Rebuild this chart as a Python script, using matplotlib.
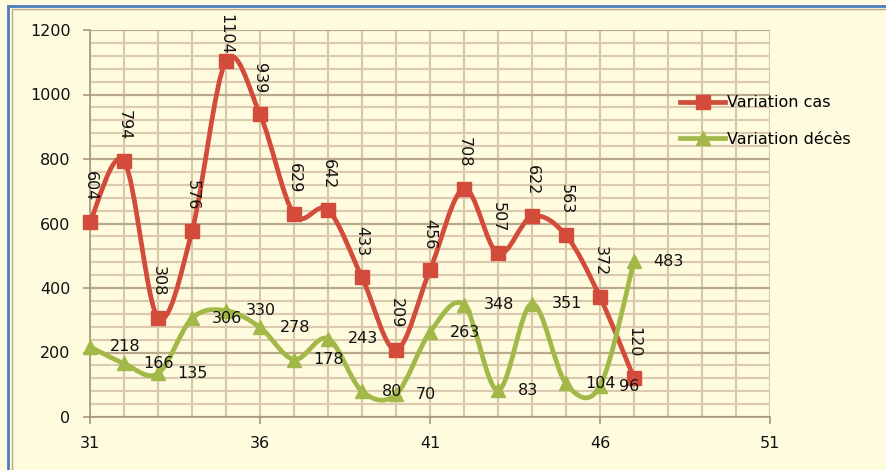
"""
Variation cas / Variation décès, smoothed lines with data labels.
Output: out.png
"""
import matplotlib
matplotlib.use("Agg")
import matplotlib.pyplot as plt
from matplotlib.path import Path
from matplotlib.patches import PathPatch, Rectangle
from matplotlib.lines import Line2D
from matplotlib.ticker import MultipleLocator

WEEKS = list(range(31, 48))
CAS = [604, 794, 308, 576, 1104, 939, 629, 642, 433, 209, 456, 708, 507, 622, 563, 372, 120]
DECES = [218, 166, 135, 306, 330, 278, 178, 243, 80, 70, 263, 348, 83, 351, 104, 96, 483]
LABELS = ["Variation cas", "Variation décès"]
XTICKS = [31, 36, 41, 46, 51]

RED = "#D34B3A"
GREEN = "#A2B849"
BG = "#FFFBDF"
W, H = 886, 470
FS = 11.5

plt.rcParams["font.family"] = "DejaVu Sans"
plt.rcParams["font.size"] = FS


def smooth_path(x, y):
    # Catmull-Rom style bezier, like Excel "smoothed line"
    n = len(x)
    verts = [(x[0], y[0])]
    codes = [Path.MOVETO]
    for i in range(n - 1):
        a = i - 1 if i > 0 else i
        d = i + 2 if i + 2 < n else i + 1
        c1 = (x[i] + (x[i + 1] - x[a]) / 6, y[i] + (y[i + 1] - y[a]) / 6)
        c2 = (x[i + 1] - (x[d] - x[i]) / 6, y[i + 1] - (y[d] - y[i]) / 6)
        verts += [c1, c2, (x[i + 1], y[i + 1])]
        codes += [Path.CURVE4] * 3
    return Path(verts, codes)


fig = plt.figure(figsize=(W / 100, H / 100), dpi=100, facecolor=BG)
ax = fig.add_axes([90 / W, 1 - 417 / H, 680 / W, 387 / H])
ax.set_facecolor(BG)

ax.set_xlim(31, 51)
ax.set_ylim(0, 1200)
ax.set_xticks(XTICKS)
ax.xaxis.set_minor_locator(MultipleLocator(1))
ax.yaxis.set_major_locator(MultipleLocator(200))
ax.yaxis.set_minor_locator(MultipleLocator(40))
ax.grid(which="both", axis="x", color="#D8C6A9", lw=1.5)
ax.grid(which="minor", axis="y", color="#DCCAAE", lw=1.5)
ax.grid(which="major", axis="y", color="#BBA98C", lw=1.6)
ax.set_axisbelow(True)
for side in ["top", "right"]:
    ax.spines[side].set_visible(False)
for side in ["left", "bottom"]:
    ax.spines[side].set_color("#A8967A")
    ax.spines[side].set_linewidth(1.2)
ax.tick_params(which="major", length=5, width=1.2, color="#A8967A",
               labelcolor="#111111", labelsize=FS, pad=9)
ax.tick_params(which="minor", length=0)

# smoothed lines
for vals, col, z in [(CAS, RED, 3), (DECES, GREEN, 4)]:
    ax.add_patch(PathPatch(smooth_path(WEEKS, vals), facecolor="none",
                           edgecolor=col, lw=3.4, capstyle="round",
                           joinstyle="round", zorder=z))
ax.plot(WEEKS, CAS, ls="none", marker="s", ms=10, color=RED, zorder=5,
        clip_on=False)
ax.plot(WEEKS, DECES, ls="none", marker="^", ms=10, color=GREEN, zorder=6,
        clip_on=False)

# data labels
for x, v in zip(WEEKS, CAS):
    if v > 1000:
        ax.annotate(str(v), xy=(x, 1), xycoords=("data", "figure fraction"),
                    xytext=(0, -10), textcoords="offset points",
                    ha="center", va="top", rotation=270, fontsize=FS,
                    color="#111111", zorder=7)
    else:
        ax.annotate(str(v), xy=(x, v), xytext=(0, 15), textcoords="offset points",
                    ha="center", va="bottom", rotation=270, fontsize=FS,
                    color="#111111", zorder=7)
for x, v in zip(WEEKS, DECES):
    ax.annotate(str(v), xy=(x, v), xytext=(14, 0), textcoords="offset points",
                ha="left", va="center", fontsize=FS, color="#111111", zorder=7)

handles = [
    Line2D([], [], color=RED, lw=3.4, marker="s", ms=10),
    Line2D([], [], color=GREEN, lw=3.4, marker="^", ms=10),
]
fig.legend(handles, LABELS, loc="upper left", bbox_to_anchor=(666 / W, 1 - 81 / H),
           frameon=False, handlelength=2.8, handletextpad=0.1,
           labelspacing=1.35, fontsize=FS)

# chart border
fig.patches.append(Rectangle((8 / W, -0.1), 1.2, 1 - 6 / H + 0.1,
                             transform=fig.transFigure, fill=False,
                             edgecolor="#4A7EBB", lw=2))
fig.patches.append(Rectangle((11.5 / W, -0.1), 1.2, 1 - 9 / H + 0.1,
                             transform=fig.transFigure, fill=False,
                             edgecolor="#B8A888", lw=1))

fig.savefig("out.png", dpi=100, facecolor=BG)
